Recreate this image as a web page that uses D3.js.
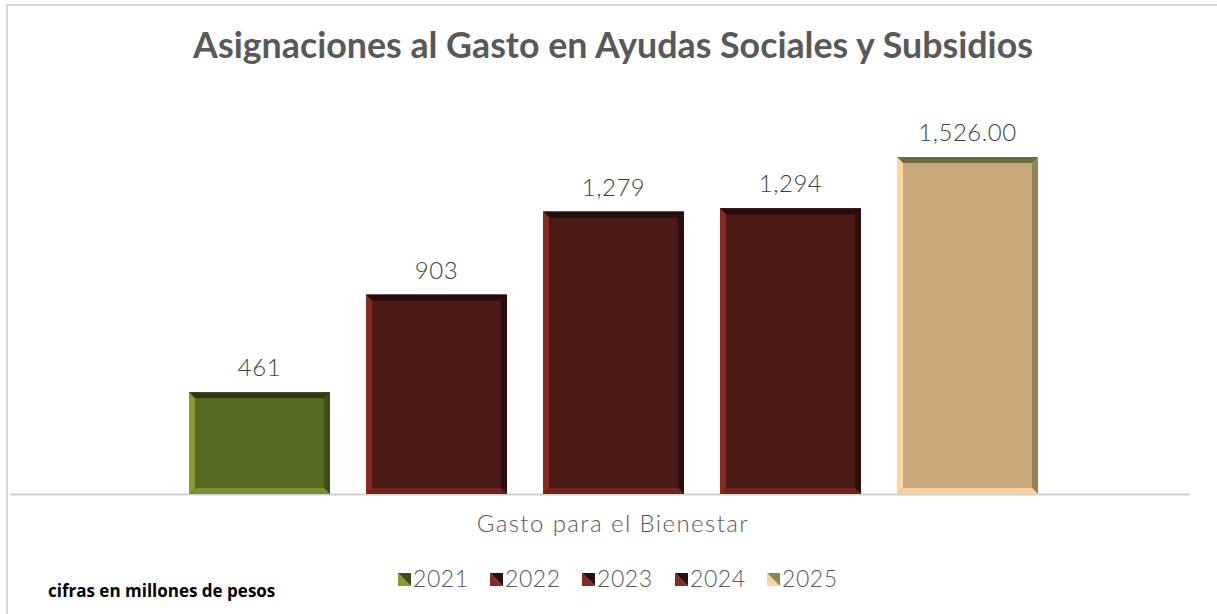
<!DOCTYPE html>
<html>
<head>
<meta charset="utf-8">
<script src="https://d3js.org/d3.v7.min.js"></script>
<style>
  body { margin: 0; background: #fff; }
  text { font-family: "Lato", "DejaVu Sans", sans-serif; }
</style>
</head>
<body>
<div id="chart"></div>
<script>
// data
var years = ["2021", "2022", "2023", "2024", "2025"];
var values = [461, 903, 1279, 1294, 1526];
var labels = ["461", "903", "1,279", "1,294", "1,526.00"];
var category = "Gasto para el Bienestar";

// bar colours: main, top, left, right, bottom
var palettes = [
  {main: "#566a22", top: "#2d3a10", left: "#8b9b37", right: "#3a5014", bottom: "#7d8c30"},
  {main: "#4b1a16", top: "#260c0a", left: "#8a2a22", right: "#2c0e0b", bottom: "#6e241d"},
  {main: "#4b1a16", top: "#260c0a", left: "#8a2a22", right: "#2c0e0b", bottom: "#6e241d"},
  {main: "#4b1a16", top: "#260c0a", left: "#8a2a22", right: "#2c0e0b", bottom: "#6e241d"},
  {main: "#c9a87a", top: "#6e6a42", left: "#ffd59e", right: "#8e8552", bottom: "#ffcf9a"}
];

var W = 1217, H = 614;
var baseY = 494;

// stretch a text to a target width with letter spacing (Century Gothic is wide)
function fit(sel, target) {
  sel.each(function() {
    var t = d3.select(this);
    var w = this.getComputedTextLength();
    var n = t.text().length;
    if (n > 1) t.style("letter-spacing", ((target - w) / (n - 1)) + "px");
  });
}

var svg = d3.select("#chart").append("svg")
  .attr("width", W).attr("height", H);

// outer border
svg.append("rect")
  .attr("x", 7).attr("y", 5).attr("width", W + 10).attr("height", H + 10)
  .attr("fill", "none").attr("stroke", "#d9d9d9").attr("stroke-width", 2);

// title
var title = svg.append("text")
  .attr("x", 613).attr("y", 58)
  .attr("text-anchor", "middle")
  .attr("fill", "#595959")
  .style("font-weight", "bold")
  .style("font-size", "28px")
  .text("Asignaciones al Gasto en Ayudas Sociales y Subsidios");
var tw = title.node().getComputedTextLength();
title.style("font-size", (28 * 840 / tw) + "px");

var x = d3.scaleBand()
  .domain(years)
  .range([171, 1056])
  .paddingInner(0.2034)
  .paddingOuter(0.1017);

var y = d3.scaleLinear()
  .domain([0, 1800])
  .range([baseY, baseY - 1800 * 337 / 1526]);

// axis line
svg.append("line")
  .attr("x1", 10).attr("x2", 1190)
  .attr("y1", baseY + 0.5).attr("y2", baseY + 0.5)
  .attr("stroke", "#d0d0d0").attr("stroke-width", 2);

var bars = years.map(function(yr, i) {
  return {year: yr, value: values[i], label: labels[i], pal: palettes[i]};
});

var b = 6; // bevel size
var g = svg.selectAll(".bar").data(bars).enter().append("g").attr("class", "bar");

g.each(function(d) {
  var sel = d3.select(this);
  var x0 = x(d.year), x1 = x0 + x.bandwidth();
  var y0 = y(d.value), y1 = baseY;
  sel.append("rect")
    .attr("x", x0).attr("y", y0).attr("width", x1 - x0).attr("height", y1 - y0)
    .attr("fill", d.pal.main);
  var poly = function(pts, c) {
    sel.append("polygon")
      .attr("points", pts.map(function(p) { return p.join(","); }).join(" "))
      .attr("fill", c);
  };
  poly([[x0, y0], [x1, y0], [x1 - b, y0 + b], [x0 + b, y0 + b]], d.pal.top);
  poly([[x0, y0], [x0 + b, y0 + b], [x0 + b, y1 - b], [x0, y1]], d.pal.left);
  poly([[x1, y0], [x1, y1], [x1 - b, y1 - b], [x1 - b, y0 + b]], d.pal.right);
  poly([[x0, y1], [x0 + b, y1 - b], [x1 - b, y1 - b], [x1, y1]], d.pal.bottom);
  sel.append("text")
    .attr("x", (x0 + x1) / 2)
    .attr("y", y0 - 16)
    .attr("text-anchor", "middle")
    .attr("fill", "#404040")
    .style("font-size", "24px")
    .style("font-weight", "300")
    .style("letter-spacing", "0.5px")
    .text(d.label);
});

// category label
var cat = svg.append("text")
  .attr("x", 613).attr("y", 532)
  .attr("text-anchor", "middle")
  .attr("fill", "#595959")
  .style("font-size", "24px")
  .style("font-weight", "300")
  .text(category);
fit(cat, 271);

// legend
var legendX = [398, 490, 582, 675, 767];
var lg = svg.selectAll(".lg").data(bars).enter().append("g")
  .attr("class", "lg")
  .attr("transform", function(d, i) { return "translate(" + legendX[i] + ",573)"; });
var s = 13;
lg.append("polygon")
  .attr("points", "0,0 0," + s + " " + s + "," + s)
  .attr("fill", function(d) { return d.pal.left; });
lg.append("polygon")
  .attr("points", "0,0 " + s + ",0 " + s + "," + s)
  .attr("fill", function(d) { return d.pal.right; });
var lt = lg.append("text")
  .attr("x", 15).attr("y", 14)
  .attr("fill", "#595959")
  .style("font-size", "23px")
  .style("font-weight", "300")
  .text(function(d) { return d.year; });
fit(lt, 55);

// footnote
svg.append("text")
  .attr("x", 48).attr("y", 597)
  .attr("fill", "#000")
  .style("font-family", "'Open Sans', sans-serif")
  .style("font-weight", "bold")
  .style("font-size", "17px")
  .text("cifras en millones de pesos");
</script>
</body>
</html>
